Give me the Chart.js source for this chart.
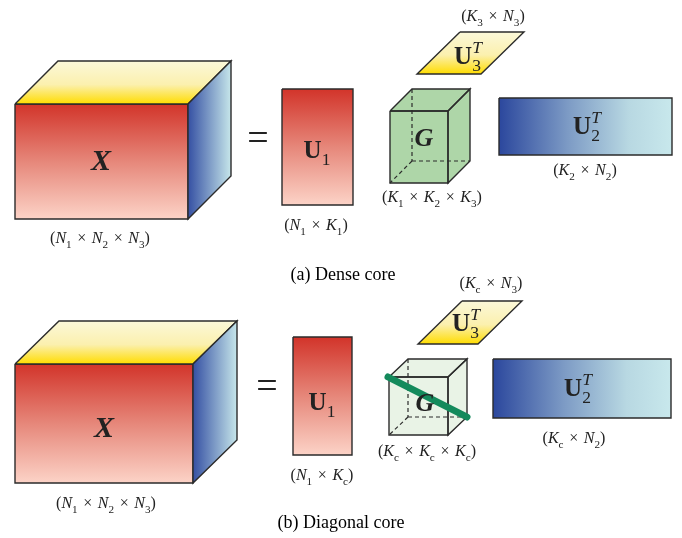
<!DOCTYPE html>
<html lang="en">
<head>
<meta charset="UTF-8">
<title>Tucker decomposition: dense core vs diagonal core</title>
<script src="https://cdn.jsdelivr.net/npm/chart.js"></script>
<style>
  html, body { margin: 0; padding: 0; background: #fff; }
  #wrap { width: 682px; height: 538px; }
</style>
</head>
<body>
<div id="wrap"><canvas id="diagram"></canvas></div>
<script>
// boxes: [left, top, width, height, depthX, depthY] (picture units)
const cubeXa = [15, 104, 173, 115, 43, 43];
const cubeXb = [15, 364, 178, 119, 44, 43];
const coreGa = [390, 111, 58, 72, 22, 22];
const coreGb = [389, 377, 59, 58, 19, 18];
// matrices: [left, top, width, height]
const matU1a = [282, 89, 71, 116];
const matU1b = [293, 337, 59, 118];
const matU2a = [499, 98, 173, 57];
const matU2b = [493, 359, 178, 59];
// slanted U3: [topLeftX, top, width, height, slant]
const matU3a = [460, 32, 64, 42, 43];
const matU3b = [462, 301, 60, 43, 44];
// diagonal of the core in (b)
const diagCore = [[388, 377], [467, 417]];

// labels
const mathText = [
  '#X', '(N_1 × N_2 × N_3)', '=', '*U_1', '(N_1 × K_1)', '(K_3 × N_3)', '*U_3^T', '#G', '(K_1 × K_2 × K_3)', '*U_2^T', '(K_2 × N_2)',
  '#X', '(N_1 × N_2 × N_3)', '=', '*U_1', '(N_1 × K_c)', '(K_c × N_3)', '*U_3^T', '#G', '(K_c × K_c × K_c)', '*U_2^T', '(K_c × N_2)'
];
const mathPos = [
  [101, 160], [100, 238], [258, 137], [317, 150], [316, 225], [493, 16], [468, 56], [424, 137], [432, 197], [587, 126], [585, 170],
  [104, 427], [106, 503], [267, 385], [322, 402], [322, 475], [491, 283], [466, 323], [425, 402], [427, 451], [578, 388], [574, 438]
];
const mathSize = [30, 16, 38, 25, 16, 16, 25, 26, 16, 25, 16, 30, 16, 38, 25, 16, 16, 25, 26, 16, 25, 16];
const captions = ['(a) Dense core', '(b) Diagonal core'];
const captionPos = [[343, 274], [341, 522]];

const edge = '#2b2b2b';
const redStops = [[0, '#d2342a'], [0.5, '#e6877a'], [1, '#fcd3c7']];
const yellowStops = [[0, '#fbf8d9'], [0.55, '#fbf0ae'], [1, '#ffdc00']];
const blueStops = [[0, '#2b479d'], [0.4, '#7d9bc5'], [0.75, '#b8d8e2'], [1, '#c8e8ec']];

function gradFill(pts, dir, stops) {
  return function (context) {
    const chart = context.chart;
    const sx = chart.scales.x, sy = chart.scales.y;
    if (!sx || !sy || !chart.chartArea) return stops[stops.length - 1][1];
    const xs = pts.map(p => p[0]), ys = pts.map(p => p[1]);
    const x0 = sx.getPixelForValue(Math.min(...xs)), x1 = sx.getPixelForValue(Math.max(...xs));
    const y0 = sy.getPixelForValue(Math.min(...ys)), y1 = sy.getPixelForValue(Math.max(...ys));
    const g = dir === 'h' ? chart.ctx.createLinearGradient(x0, 0, x1, 0) : chart.ctx.createLinearGradient(0, y0, 0, y1);
    stops.forEach(s => g.addColorStop(s[0], s[1]));
    return g;
  };
}

const datasets = [];
function shape(pts, opts) {
  const closed = opts.open ? pts : pts.concat([pts[0]]);
  datasets.push({
    data: closed.map(p => ({ x: p[0], y: p[1] })),
    showLine: true,
    pointRadius: 0,
    pointHoverRadius: 0,
    tension: 0,
    clip: false,
    fill: opts.fill ? 'shape' : false,
    backgroundColor: opts.fill || 'rgba(0,0,0,0)',
    borderColor: opts.stroke || edge,
    borderWidth: opts.width === undefined ? 1.4 : opts.width,
    borderDash: opts.dash || [],
    borderCapStyle: opts.cap || 'butt',
    borderJoinStyle: 'miter'
  });
}

function rect(r) {
  const [l, t, w, h] = r;
  return [[l, t], [l + w, t], [l + w, t + h], [l, t + h]];
}
function slab(s) {
  const [x, t, w, h, k] = s;
  return [[x, t], [x + w, t], [x + w - k, t + h], [x - k, t + h]];
}
function boxFaces(b) {
  const [l, t, w, h, dx, dy] = b;
  return {
    front: [[l, t], [l + w, t], [l + w, t + h], [l, t + h]],
    top: [[l, t], [l + dx, t - dy], [l + w + dx, t - dy], [l + w, t]],
    right: [[l + w, t], [l + w + dx, t - dy], [l + w + dx, t + h - dy], [l + w, t + h]],
    outline: [[l, t], [l + dx, t - dy], [l + w + dx, t - dy], [l + w + dx, t + h - dy], [l + w, t + h], [l, t + h]],
    hidden: [
      [[l + dx, t - dy], [l + dx, t + h - dy]],
      [[l + dx, t + h - dy], [l + w + dx, t + h - dy]],
      [[l + dx, t + h - dy], [l, t + h]]
    ]
  };
}

function dataTensor(b) {
  const f = boxFaces(b);
  shape(f.front, { fill: gradFill(f.front, 'v', redStops) });
  shape(f.top, { fill: gradFill(f.top, 'v', yellowStops) });
  shape(f.right, { fill: gradFill(f.right, 'h', [[0, '#3550a3'], [1, '#c6e6ea']]) });
}
function coreTensor(b, color) {
  const f = boxFaces(b);
  shape(f.outline, { fill: color, width: 0, stroke: 'rgba(0,0,0,0)' });
  f.hidden.forEach(seg => shape(seg, { open: true, dash: [4, 3], width: 1.2 }));
  shape(f.front, {});
  shape(f.top, {});
  shape(f.right, {});
}

// (a) dense core
dataTensor(cubeXa);
shape(rect(matU1a), { fill: gradFill(rect(matU1a), 'v', redStops) });
shape(slab(matU3a), { fill: gradFill(slab(matU3a), 'v', yellowStops) });
coreTensor(coreGa, '#aed6a8');
shape(rect(matU2a), { fill: gradFill(rect(matU2a), 'h', blueStops) });
// (b) diagonal core
dataTensor(cubeXb);
shape(rect(matU1b), { fill: gradFill(rect(matU1b), 'v', redStops) });
shape(slab(matU3b), { fill: gradFill(slab(matU3b), 'v', yellowStops) });
coreTensor(coreGb, '#e9f3e6');
shape(diagCore, { open: true, stroke: '#148a5c', width: 7, cap: 'round' });
shape(rect(matU2b), { fill: gradFill(rect(matU2b), 'h', blueStops) });

// later shapes on top
datasets.forEach((d, i) => { d.order = datasets.length - i; });

const serif = '"Liberation Serif", "Times New Roman", serif';

function layoutMath(ctx, str, size) {
  const out = [];
  let x = 0, i = 0, scriptX = null, scriptW = 0;
  while (i < str.length) {
    let ch = str[i], kind;
    if ('*#_^'.includes(ch)) { kind = ch; ch = str[i + 1]; i += 2; }
    else { kind = /[A-Za-z]/.test(ch) ? 'i' : 'r'; i += 1; }
    let fs = size, style = '', dy = 0;
    if (kind === '*') style = 'bold ';
    if (kind === '#') style = 'italic bold ';
    if (kind === 'i') style = 'italic ';
    if (kind === '_') { fs = size * 0.7; dy = size * 0.27; }
    if (kind === '^') { fs = size * 0.7; dy = -size * 0.45; style = 'italic '; }
    const font = style + fs.toFixed(1) + 'px ' + serif;
    ctx.font = font;
    let w = ctx.measureText(ch).width;
    let pad = 0;
    if (ch === '×') { pad = size * 0.1; w += 2 * pad; }
    const script = kind === '_' || kind === '^';
    let px = x;
    if (script && scriptX !== null) {
      px = scriptX;
      x = scriptX + Math.max(w, scriptW);
      scriptX = null;
    } else {
      if (script) { scriptX = x; scriptW = w; } else scriptX = null;
      x += w;
    }
    out.push({ ch, font, px: px + pad, dy });
  }
  return { out, width: x };
}

const labelPlugin = {
  id: 'labels',
  afterDatasetsDraw(chart) {
    const { ctx, scales } = chart;
    ctx.save();
    ctx.fillStyle = '#222';
    ctx.textBaseline = 'alphabetic';
    ctx.textAlign = 'left';
    mathText.forEach((str, k) => {
      const size = mathSize[k];
      const cx = scales.x.getPixelForValue(mathPos[k][0]);
      const cy = scales.y.getPixelForValue(mathPos[k][1]);
      const lay = layoutMath(ctx, str, size);
      const x0 = cx - lay.width / 2;
      const base = cy + size * 0.33;
      lay.out.forEach(t => {
        ctx.font = t.font;
        ctx.fillText(t.ch, x0 + t.px, base + t.dy);
      });
    });
    ctx.fillStyle = '#000';
    ctx.textAlign = 'center';
    ctx.font = '18px ' + serif;
    captions.forEach((c, k) => {
      const cx = scales.x.getPixelForValue(captionPos[k][0]);
      const cy = scales.y.getPixelForValue(captionPos[k][1]);
      ctx.fillText(c, cx, cy + 6);
    });
    ctx.restore();
  }
};

new Chart(document.getElementById('diagram').getContext('2d'), {
  type: 'scatter',
  data: { datasets: datasets },
  options: {
    responsive: true,
    maintainAspectRatio: false,
    animation: false,
    events: [],
    layout: { padding: 0 },
    scales: {
      x: { type: 'linear', min: 0, max: 682, display: false },
      y: { type: 'linear', min: 0, max: 538, reverse: true, display: false }
    },
    plugins: {
      legend: { display: false },
      tooltip: { enabled: false }
    }
  },
  plugins: [labelPlugin]
});
</script>
</body>
</html>
